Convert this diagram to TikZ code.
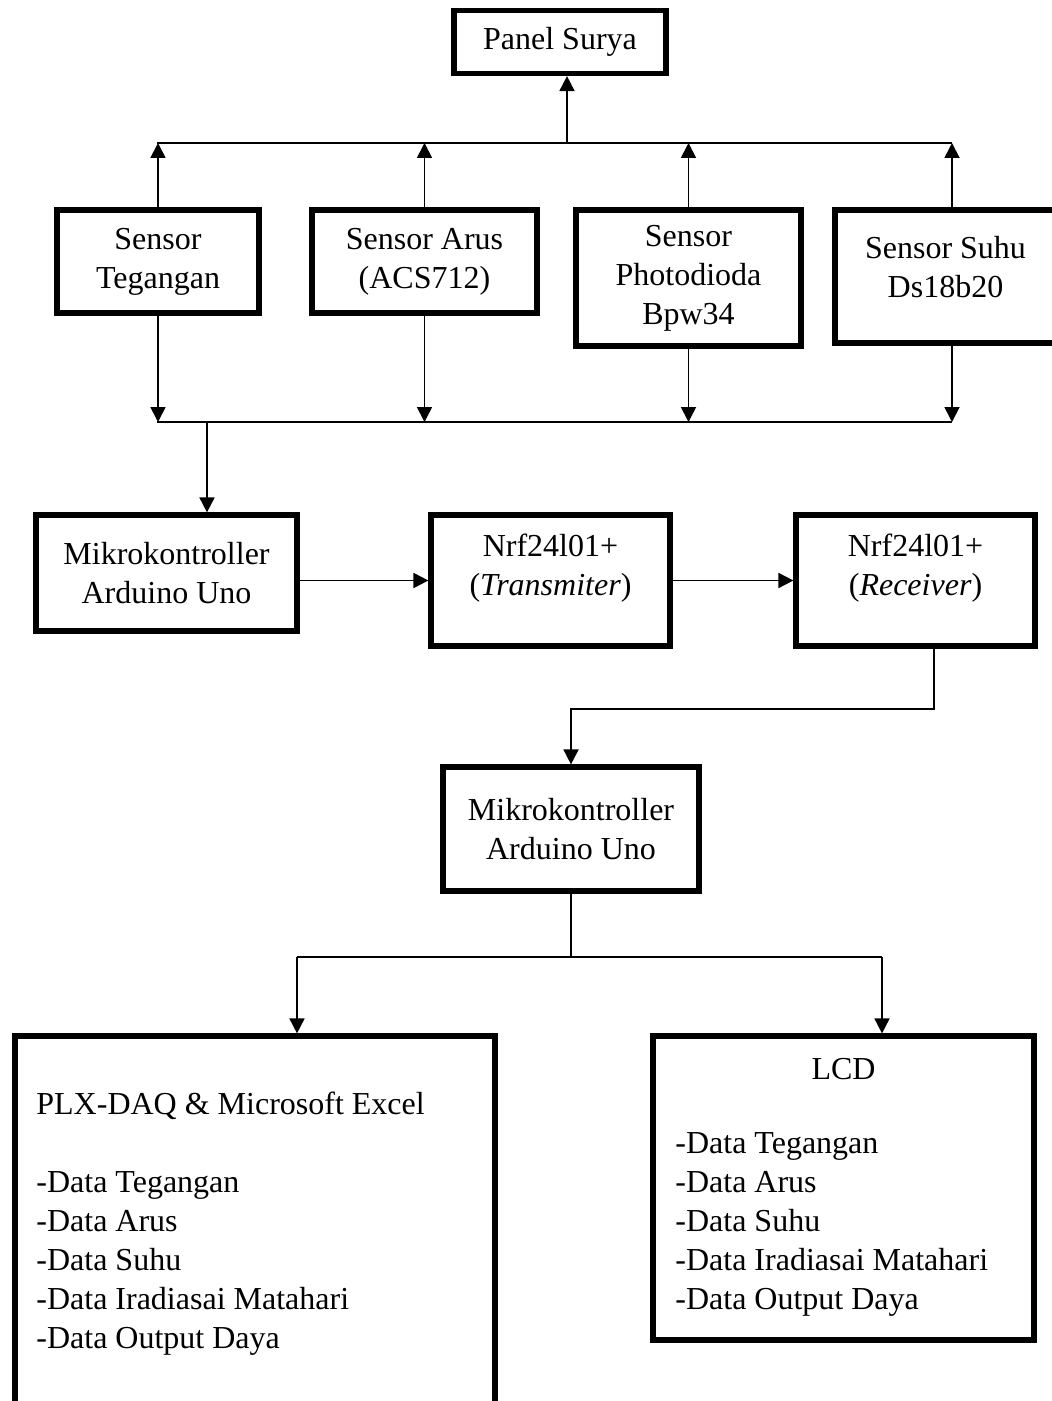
\documentclass[tikz,border=0pt]{standalone}
\usepackage{fontspec}
\setmainfont{Liberation Serif}
\usetikzlibrary{arrows.meta,calc,positioning}
\tikzset{
  blok/.style={draw=black,line width=2.6pt,fill=white,align=center,inner sep=3pt},
  wire/.style={line width=0.9pt,draw=black},
  arr/.style={wire,-{Triangle[length=7.5pt,width=7.5pt]}},
  listing/.style={align=left,inner sep=0pt,anchor=base west}
}

\begin{document}
\begin{tikzpicture}[x=0.5pt,y=-0.5pt,font=\fontsize{16}{19.5}\selectfont]
  \useasboundingbox[fill=white] (0,0) rectangle (1051,1401);
  \node[blok,minimum width=106pt,minimum height=31.5pt] (panel) at (560,42) {Panel Surya};
  \node[blok,minimum width=101pt,minimum height=51.5pt] (teg) at (158,261.5) {Sensor\\Tegangan};
  \node[blok,minimum width=112.5pt,minimum height=51.5pt] (arus) at (424.5,261.5) {Sensor Arus\\(ACS712)};
  \node[blok,minimum width=112.5pt,minimum height=68pt] (foto) at (688.5,278) {Sensor\\Photodioda\\Bpw34};
  \node[blok,minimum width=110.5pt,minimum height=66.5pt,
        label={[align=center,yshift=4.75pt]center:Sensor Suhu\\Ds18b20}] (suhu) at (945.5,276.5) {};
  \node[blok,minimum width=130.5pt,minimum height=58pt] (mk1) at (166.5,573) {Mikrokontroller\\Arduino Uno};
  \node[blok,minimum width=119.5pt,minimum height=65.5pt,
        label={[align=center,yshift=6.25pt]center:Nrf24l01+\\(\textit{Transmiter})}] (tx) at (550.5,580.5) {};
  \node[blok,minimum width=119.5pt,minimum height=65.5pt,
        label={[align=center,yshift=6.25pt]center:Nrf24l01+\\(\textit{Receiver})}] (rx) at (915.5,580.5) {};
  \node[blok,minimum width=128pt,minimum height=62pt] (mk2) at (571,829) {Mikrokontroller\\Arduino Uno};
  \node[blok,minimum width=240pt,minimum height=202pt] (plx) at (255,1238) {};
  \node[blok,minimum width=190.5pt,minimum height=152pt] (lcd) at (843.5,1188) {};
  \node[listing] (plxtxt) at (36,1348) {PLX-DAQ \& Microsoft Excel\\[19.5pt]-Data Tegangan\\-Data Arus\\-Data Suhu\\-Data Iradiasai Matahari\\-Data Output Daya};
  \node (lcdhead) at (843.5,1069) {LCD};
  \node[listing] (lcdtxt) at (675,1309) {-Data Tegangan\\-Data Arus\\-Data Suhu\\-Data Iradiasai Matahari\\-Data Output Daya};

  \coordinate (up) at (567,143);
  \coordinate (busL) at (157,143); \coordinate (busR) at (952,143);
  \coordinate (lowL) at (157,422); \coordinate (lowR) at (952,422);
  \coordinate (tap) at (207,422);
  \coordinate (bend) at (934,709);
  \coordinate (outL) at (297,957); \coordinate (outR) at (882,957);

  \draw[arr] (up) -- (up |- panel.south);
  \draw[wire] (busL) -- (busR);
  \draw[wire] (lowL) -- (lowR);
  \foreach \s in {teg,arus,foto} {
    \draw[arr] (\s.north) -- (\s.north |- busL);
    \draw[arr] (\s.south) -- (\s.south |- lowL);
  }
  \draw[arr] (suhu.north -| busR) -- (busR);
  \draw[arr] (suhu.south -| lowR) -- (lowR);
  \draw[arr] (tap) -- (tap |- mk1.north);
  \draw[arr] (mk1.east |- tx.west) -- (tx.west);
  \draw[arr] (tx) -- (rx);
  \draw[arr] (rx.south -| bend) -- (bend) -| (mk2.north);
  \draw[wire] (mk2.south) -- (mk2.south |- outL);
  \draw[wire] (outL) -- (outR);
  \draw[arr] (outL) -- (outL |- plx.north);
  \draw[arr] (outR) -- (outR |- lcd.north);
\end{tikzpicture}
\end{document}
